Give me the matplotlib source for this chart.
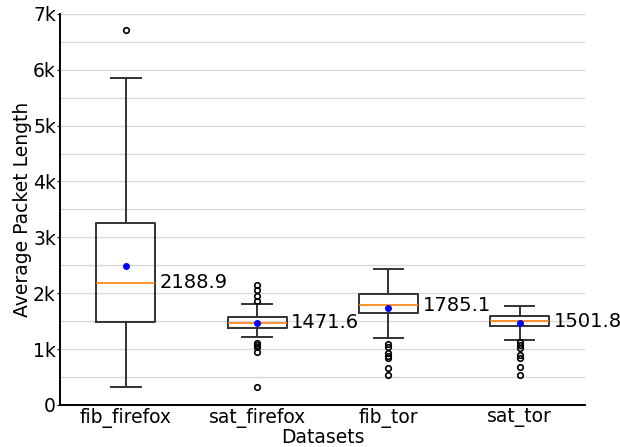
import numpy as np
import matplotlib.pyplot as plt
from matplotlib.ticker import FuncFormatter, MultipleLocator

datasets = ['fib_firefox', 'sat_firefox', 'fib_tor', 'sat_tor']
medians = [2188.9, 1471.6, 1785.1, 1501.8]
means = [2490, 1467, 1735, 1472]
q1 = [1485, 1377, 1650, 1413]
q3 = [3250, 1569, 1990, 1587]
whis_lo = [330, 1216, 1199, 1157]
whis_hi = [5850, 1807, 2430, 1765]
fliers = [
    [6710],
    [1866, 1955, 2050, 2140, 1115, 1079, 1043, 953, 316],
    [1086, 1043, 925, 877, 835, 657, 531],
    [1121, 1068, 1025, 889, 841, 674, 531],
]


def k_format(v, pos):
    if v == 0:
        return '0'
    return '%dk' % (v / 1000)


fig = plt.figure(figsize=(6.2, 4.47), dpi=100)
ax = fig.add_axes([0.097, 0.094, 0.847, 0.875])

stats = []
for i, name in enumerate(datasets):
    stats.append({'label': name, 'med': medians[i], 'mean': means[i],
                  'q1': q1[i], 'q3': q3[i], 'whislo': whis_lo[i],
                  'whishi': whis_hi[i], 'fliers': np.array(fliers[i])})

ax.bxp(stats, widths=0.45, showmeans=True,
       boxprops=dict(color='#333333', linewidth=1.4),
       whiskerprops=dict(color='#333333', linewidth=1.4),
       capprops=dict(color='#333333', linewidth=1.4),
       medianprops=dict(color='#ff7f0e', linewidth=1.2),
       meanprops=dict(marker='o', markerfacecolor='blue', markeredgecolor='blue', markersize=4),
       flierprops=dict(marker='o', markerfacecolor='none', markeredgecolor='black',
                       markersize=4, markeredgewidth=1.2))

for i, m in enumerate(medians):
    ax.text(i + 1 + 0.26, m, '%.1f' % m, fontsize=14, va='center', ha='left')

ax.set_xlim(0.5, 4.5)
ax.set_ylim(0, 7000)
ax.yaxis.set_major_locator(MultipleLocator(1000))
ax.yaxis.set_major_formatter(FuncFormatter(k_format))
ax.yaxis.set_minor_locator(MultipleLocator(500))
ax.grid(axis='y', which='both', color='#d9d9d9', linewidth=1)
ax.set_axisbelow(True)
ax.spines['top'].set_visible(False)
ax.spines['right'].set_visible(False)
ax.spines['left'].set_linewidth(1.4)
ax.spines['bottom'].set_linewidth(1.4)
ax.tick_params(axis='y', which='major', length=2, pad=1, labelsize=13.5)
ax.tick_params(axis='y', which='minor', length=0)
ax.tick_params(axis='x', length=0, pad=2, labelsize=13.5)
ax.set_xlabel('Datasets', fontsize=13.5, labelpad=0)
ax.set_ylabel('Average Packet Length', fontsize=13.5, labelpad=1)

plt.savefig('out.png', dpi=100)
